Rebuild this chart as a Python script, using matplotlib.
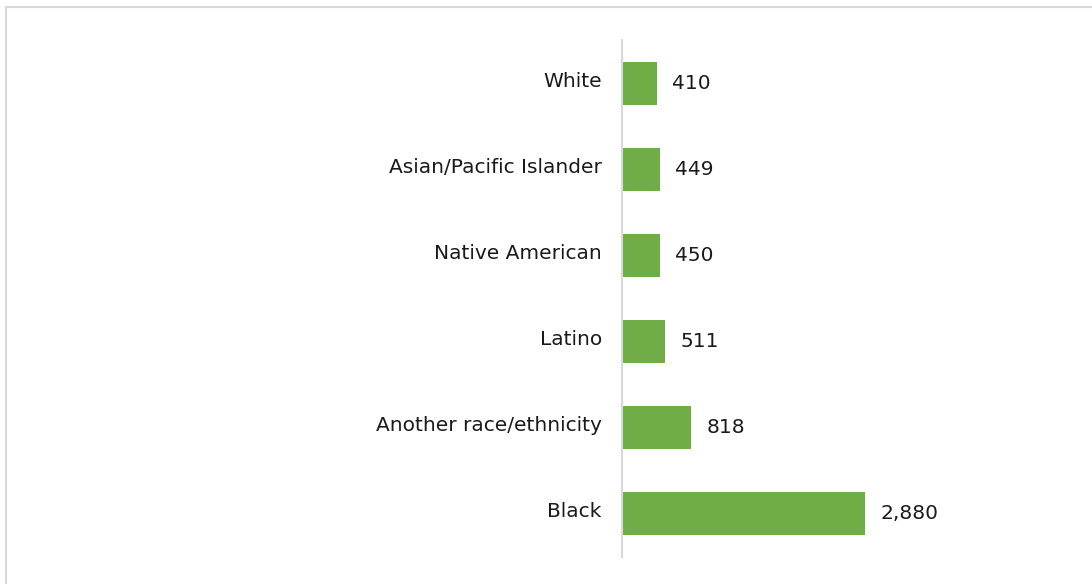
import matplotlib.pyplot as plt
from matplotlib.lines import Line2D

categories = ["White", "Asian/Pacific Islander", "Native American", "Latino",
              "Another race/ethnicity", "Black"]
values = [410, 449, 450, 511, 818, 2880]
value_labels = ["410", "449", "450", "511", "818", "2,880"]

plt.rcParams['font.family'] = ['DejaVu Sans']

W, H = 1092, 584
FS = 14.5
TXT = "#1a1a1a"
fig = plt.figure(figsize=(W / 100, H / 100), dpi=100)
ax = fig.add_axes([622 / W, 1 - 557 / H, 428 / W, 517 / H])

ypos = list(range(len(categories)))
ax.barh(ypos, values, height=0.5, color="#70AD47")
ax.set_ylim(len(categories) - 0.5, -0.5)
ax.set_xlim(0, 428 * 2880 / 243)

# value labels to the right of each bar
for y, v, lab in zip(ypos, values, value_labels):
    ax.annotate(lab, (v, y), xytext=(11, 0), textcoords="offset points",
                va="center", ha="left", fontsize=FS, color=TXT)

# category labels left of the axis line
for y, cat in zip(ypos, categories):
    ax.annotate(cat, (0, y), xytext=(-14.5, 1.5), textcoords="offset points",
                va="center", ha="right", fontsize=FS, color=TXT,
                annotation_clip=False)

ax.set_yticks([])
ax.set_xticks([])
for side in ("top", "right", "bottom"):
    ax.spines[side].set_visible(False)
ax.spines["left"].set_color("#D9D9D9")
ax.spines["left"].set_linewidth(1.5)

# light frame along the top and left edges
fig.add_artist(Line2D([5.5 / W, 1], [1 - 7 / H, 1 - 7 / H], transform=fig.transFigure,
                      color="#D9D9D9", linewidth=1.5))
fig.add_artist(Line2D([5.5 / W, 5.5 / W], [0, 1 - 7 / H], transform=fig.transFigure,
                      color="#D9D9D9", linewidth=1.5))

fig.savefig("out.png", dpi=100, facecolor="white")
